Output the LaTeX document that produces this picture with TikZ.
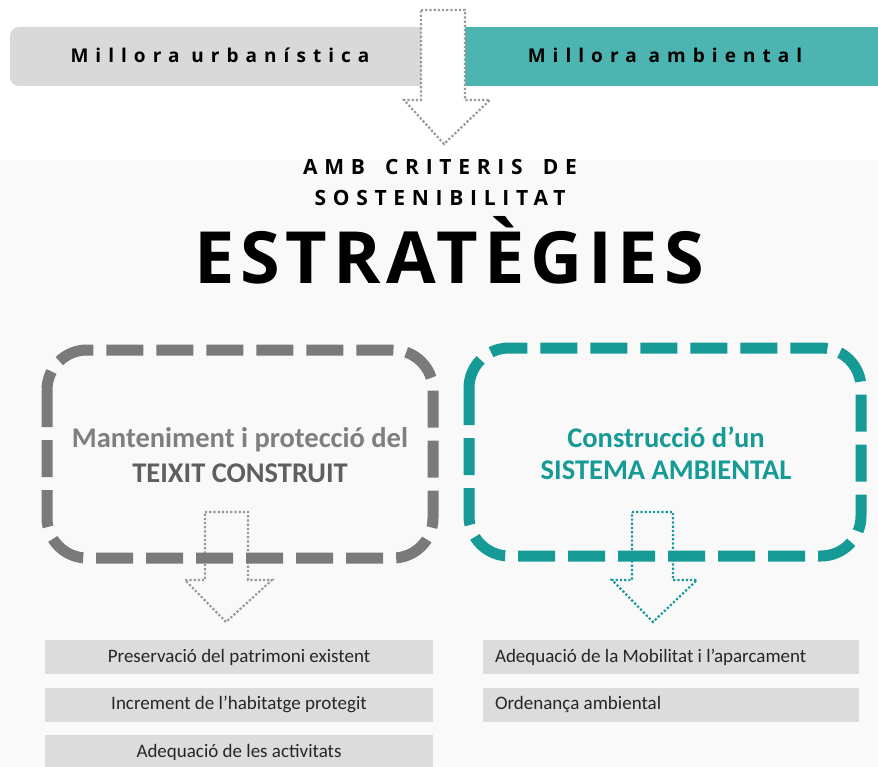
\documentclass[tikz,border=0pt]{standalone}
\usepackage{fontspec}
\setmainfont{Carlito}
\newfontfamily\barfont[LetterSpace=37]{Open Sans}
\newfontfamily\subfont[LetterSpace=32]{Open Sans}
\newfontfamily\bigfont[LetterSpace=8]{Open Sans}
\definecolor{barGray}{HTML}{D9D9D9}
\definecolor{barTeal}{HTML}{4DB5B1}
\definecolor{boxGray}{HTML}{7A7A7A}
\definecolor{boxTeal}{HTML}{169A96}
\definecolor{listGray}{HTML}{DCDCDC}
\definecolor{txtGray}{HTML}{7F7F7F}
\definecolor{txtDark}{HTML}{5F5F5F}
\definecolor{arrGray}{HTML}{999999}
\definecolor{bgGray}{HTML}{F9F9F9}
\begin{document}
\begin{tikzpicture}[x=1pt,y=-1pt,
  bartext/.style={font=\barfont\bfseries\fontsize{19}{23}\selectfont, text=black},
  subtext/.style={font=\subfont\bfseries\fontsize{21}{25}\selectfont, text=black},
  stratbox/.style={line width=11pt, rounded corners=40pt, dash pattern=on 37pt off 13pt},
  blockarrow/.style={dotted, line width=2.2pt, line join=miter},
  listbox/.style={fill=listGray, draw=none, minimum height=34pt, inner sep=0pt},
  listtext/.style={font=\fontsize{19}{22}\selectfont, text=black!85, inner sep=0pt},
  headtext/.style={font=\bfseries\fontsize{28.5}{34}\selectfont, align=center}
]
\useasboundingbox (0,0) rectangle (878,767);
\fill[white] (0,0) rectangle (878,767);
\fill[bgGray] (0,160) rectangle (878,767);

% top bar
\fill[barGray, rounded corners=9pt] (465,27) -- (10,27) -- (10,86) -- (465,86) -- cycle;
\fill[barTeal] (465,27) rectangle (878,86);
\node[bartext] (urb) at (220,55) {Millora urbanística};
\node[bartext] (amb) at (665,55) {Millora ambiental};

% top dotted arrow
\draw[blockarrow, arrGray, fill=white] (421,10) -- (465,10) -- (465,100) -- (490,100) -- (444,144) -- (404,100) -- (421,100) -- cycle;

% titles
\node[subtext] (crit) at (440,167) {AMB\hspace{8pt} CRITERIS\hspace{8pt} DE};
\node[subtext] (sost) at (440,198) {SOSTENIBILITAT};
\node[font=\bigfont\bfseries\fontsize{72}{84}\selectfont] (estr) at (449,250) {ESTRATÈGIES};

% small dotted arrows
\draw[blockarrow, arrGray] (205,512) -- (248,512) -- (248,580) -- (272,580) -- (226,622) -- (185,580) -- (205,580) -- cycle;
\draw[blockarrow, boxTeal] (632,512) -- (673,512) -- (673,580) -- (697,580) -- (653,622) -- (612,580) -- (632,580) -- cycle;

% strategy boxes
\draw[stratbox, boxGray] (47,350) rectangle (433,558);
\draw[stratbox, boxTeal] (469,348) rectangle (861,556);
\node[headtext, text=txtGray] (mant) at (240,440) {Manteniment i protecció del};
\node[headtext, text=txtDark] (teix) at (240,473) {TEIXIT CONSTRUIT};
\node[headtext, text=boxTeal] (cons) at (666,437) {Construcció d’un};
\node[headtext, text=boxTeal] (sist) at (666,470) {SISTEMA AMBIENTAL};

% list boxes left
\node[listbox, minimum width=388pt] (l1) at (239,657) {};
\node[listbox, minimum width=388pt] (l2) at (239,704.5) {};
\node[listbox, minimum width=388pt] (l3) at (239,752) {};
\node[listtext] (l1t) at (l1) {Preservació del patrimoni existent};
\node[listtext] (l2t) at (l2) {Increment de l’habitatge protegit};
\node[listtext] (l3t) at (l3) {Adequació de les activitats};
% list boxes right
\node[listbox, minimum width=376pt] (r1) at (671,657) {};
\node[listbox, minimum width=376pt] (r2) at (671,704.5) {};
\node[listtext, anchor=west] (r1t) at ([xshift=12pt]r1.west) {Adequació de la Mobilitat i l’aparcament};
\node[listtext, anchor=west] (r2t) at ([xshift=12pt]r2.west) {Ordenança ambiental};
\end{tikzpicture}
\end{document}
